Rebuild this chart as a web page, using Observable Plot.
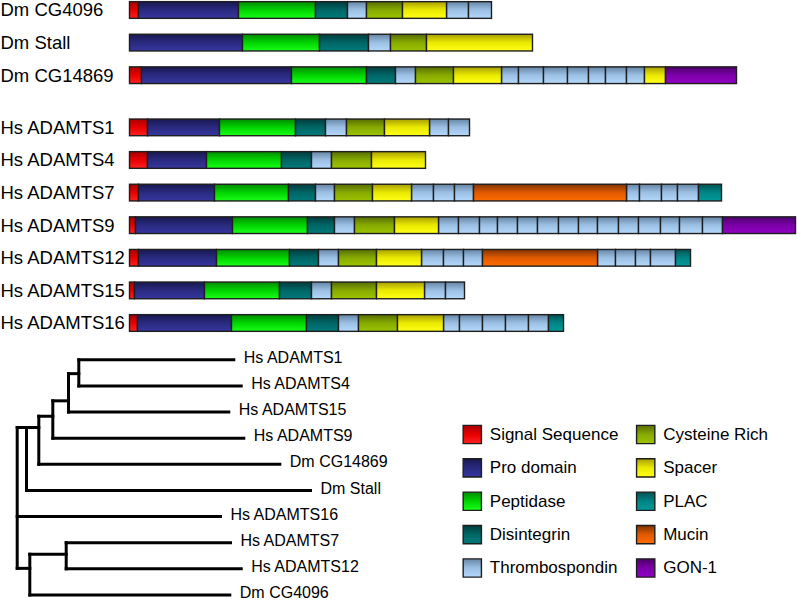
<!DOCTYPE html>
<html><head><meta charset="utf-8">
<script src="https://cdn.jsdelivr.net/npm/d3@7"></script>
<script src="https://cdn.jsdelivr.net/npm/@observablehq/plot@0.6"></script>
<style>
body{margin:0;background:#fff;}
#chart{position:relative;width:797px;height:600px;overflow:hidden;background:#fff;}
#chart svg{position:absolute;}
</style></head><body><div id="chart"></div>
<script>
// ---------- DATA ----------
const proteins = ["Dm CG4096","Dm Stall","Dm CG14869","Hs ADAMTS1","Hs ADAMTS4","Hs ADAMTS7","Hs ADAMTS9","Hs ADAMTS12","Hs ADAMTS15","Hs ADAMTS16"];

const domainsCG4096   = ["sig","pro","pep","dis","tsp","cys","spa","tsp","tsp"];
const lengthsCG4096   = [9,100,77,32,19,36,44,22,23];
const domainsStall    = ["pro","pep","dis","tsp","cys","spa"];
const lengthsStall    = [113,77,49,22,36,106];
const domainsCG14869  = ["sig","pro","pep","dis","tsp","cys","spa","tsp","tsp","tsp","tsp","tsp","tsp","tsp","spa","gon"];
const lengthsCG14869  = [12,150,75,29,20,38,48,17,25,24,21,17,21,18,21,71];
const domainsADAMTS1  = ["sig","pro","pep","dis","tsp","cys","spa","tsp","tsp"];
const lengthsADAMTS1  = [18,72,76,30,21,38,45,19,21];
const domainsADAMTS4  = ["sig","pro","pep","dis","tsp","cys","spa"];
const lengthsADAMTS4  = [18,59,75,30,20,40,54];
const domainsADAMTS7  = ["sig","pro","pep","dis","tsp","cys","spa","tsp","tsp","tsp","muc","tsp","tsp","tsp","tsp","plac"];
const lengthsADAMTS7  = [9,76,74,27,19,38,39,22,21,19,153,13,22,16,21,23];
const domainsADAMTS9  = ["sig","pro","pep","dis","tsp","cys","spa","tsp","tsp","tsp","tsp","tsp","tsp","tsp","tsp","tsp","tsp","tsp","tsp","tsp","tsp","gon"];
const lengthsADAMTS9  = [6,97,75,27,20,40,44,20,21,18,20,20,21,20,19,21,20,22,19,23,20,73];
const domainsADAMTS12 = ["sig","pro","pep","dis","tsp","cys","spa","tsp","tsp","tsp","muc","tsp","tsp","tsp","tsp","plac"];
const lengthsADAMTS12 = [9,78,73,29,20,38,45,22,20,19,115,18,20,15,25,15];
const domainsADAMTS15 = ["sig","pro","pep","dis","tsp","cys","spa","tsp","tsp"];
const lengthsADAMTS15 = [5,70,75,32,20,45,48,21,19];
const domainsADAMTS16 = ["sig","pro","pep","dis","tsp","cys","spa","tsp","tsp","tsp","tsp","tsp","plac"];
const lengthsADAMTS16 = [8,94,75,32,20,39,46,16,23,23,23,20,15];

const domainTypes = ["sig","pro","pep","dis","tsp","cys","spa","plac","muc","gon"];
const legendCol1 = ["Signal Sequence","Pro domain","Peptidase","Disintegrin","Thrombospondin"];
const legendCol1Types = ["sig","pro","pep","dis","tsp"];
const legendCol2 = ["Cysteine Rich","Spacer","PLAC","Mucin","GON-1"];
const legendCol2Types = ["cys","spa","plac","muc","gon"];

// tree: node, parent, branch length
const treeNodes   = ["root","nE","nD","nC","nB","nA","Hs ADAMTS1","Hs ADAMTS4","Hs ADAMTS15","Hs ADAMTS9","Dm CG14869","Dm Stall","Hs ADAMTS16","nF","nG","Hs ADAMTS7","Hs ADAMTS12","Dm CG4096"];
const treeParents = [null,"root","nE","nD","nC","nB","nA","nA","nB","nC","nD","nE","root","root","nF","nG","nG","nF"];
const branchLengths = [0,9.3,12.3,14,15.7,10.3,155,162.4,160.3,191,241,284,203.3,12.6,36.4,164.3,175,200];
const leafOrder = ["Hs ADAMTS1","Hs ADAMTS4","Hs ADAMTS15","Hs ADAMTS9","Dm CG14869","Dm Stall","Hs ADAMTS16","Hs ADAMTS7","Hs ADAMTS12","Dm CG4096"];
const innerNodeNames = ["nA","nB","nC","nD","nE","nG","nF"];
const innerNodeRows  = [0.53,1.57,2.16,2.59,2.59,7.44,7.98];

// ---------- STYLE ----------
const gradTop = {sig:"#a80000",pro:"#181850",pep:"#008a00",dis:"#003c3c",tsp:"#6585a5",cys:"#566e00",spa:"#a89f00",plac:"#005252",muc:"#803400",gon:"#4c006c"};
const gradMid = {sig:"#e80000",pro:"#2a2a80",pep:"#00d400",dis:"#006666",tsp:"#9cc0e4",cys:"#87aa00",spa:"#eaea00",plac:"#008585",muc:"#e05a00",gon:"#7c00a8"};
const gradBot = {sig:"#ff2020",pro:"#3636a0",pep:"#18ff18",dis:"#007a7a",tsp:"#b4d8fa",cys:"#9cc400",spa:"#ffff18",plac:"#009a9a",muc:"#ff6c00",gon:"#9000c4"};
const FONT = "'Liberation Sans', Arial, Helvetica, sans-serif";
const STROKE = "#1e1e1e";

const chart = document.getElementById("chart");
chart.insertAdjacentHTML("beforeend",
  `<svg width="0" height="0" style="position:absolute"><defs>${domainTypes.map(t =>
    `<linearGradient id="g-${t}" x1="0" y1="0" x2="0" y2="1">
      <stop offset="0" stop-color="${gradTop[t]}"/><stop offset="0.5" stop-color="${gradMid[t]}"/><stop offset="1" stop-color="${gradBot[t]}"/>
    </linearGradient>`).join("")}</defs></svg>`);

// ---------- DOMAIN BARS ----------
const archs = {
  "Dm CG4096":[domainsCG4096,lengthsCG4096], "Dm Stall":[domainsStall,lengthsStall], "Dm CG14869":[domainsCG14869,lengthsCG14869],
  "Hs ADAMTS1":[domainsADAMTS1,lengthsADAMTS1], "Hs ADAMTS4":[domainsADAMTS4,lengthsADAMTS4], "Hs ADAMTS7":[domainsADAMTS7,lengthsADAMTS7],
  "Hs ADAMTS9":[domainsADAMTS9,lengthsADAMTS9], "Hs ADAMTS12":[domainsADAMTS12,lengthsADAMTS12], "Hs ADAMTS15":[domainsADAMTS15,lengthsADAMTS15],
  "Hs ADAMTS16":[domainsADAMTS16,lengthsADAMTS16]
};
const rowOf = (i) => i + (i >= 3 ? 0.6 : 0);
const segs = [];
proteins.forEach((p, i) => {
  const [ds, ls] = archs[p];
  let s = 0;
  ds.forEach((d, k) => { segs.push({protein:p, row:rowOf(i), type:d, x1:s, x2:s + ls[k]}); s += ls[k]; });
});
const half = 0.256;
const barPlot = Plot.plot({
  width: 797, height: 340, margin: 0,
  x: {domain:[0,667.5], range:[129.5,797], axis:null},
  y: {domain:[0,9.6], range:[10,323], axis:null},
  style: {fontFamily: FONT, background:"transparent", overflow:"visible"},
  marks: [
    ...domainTypes.map(t => Plot.rect(segs.filter(d => d.type === t), {
      x1:"x1", x2:"x2", y1: d => d.row - half, y2: d => d.row + half,
      fill:`url(#g-${t})`, stroke:STROKE, strokeWidth:1.4})),
    Plot.text(proteins, {frameAnchor:"left", y:(d,i) => rowOf(i), text:d => d, textAnchor:"start", fontSize:18.5, fill:"#000"})
  ]
});
barPlot.style.left = "0px"; barPlot.style.top = "0px";
chart.appendChild(barPlot);

// ---------- TREE ----------
const parentOf = new Map(treeNodes.map((n,i) => [n, treeParents[i]]));
const lenOf = new Map(treeNodes.map((n,i) => [n, branchLengths[i]]));
const depth = (n) => n === "root" ? 0 : depth(parentOf.get(n)) + lenOf.get(n);
const rowMap = new Map();
leafOrder.forEach((n,i) => rowMap.set(n, i));
innerNodeNames.forEach((n,i) => rowMap.set(n, innerNodeRows[i]));
const horiz = treeNodes.filter(n => n !== "root").map(n => ({x1:depth(parentOf.get(n)), x2:depth(n), y1:rowMap.get(n), y2:rowMap.get(n)}));
const vert = ["root", ...innerNodeNames].map(n => {
  const kids = treeNodes.filter(c => parentOf.get(c) === n).map(c => rowMap.get(c));
  return {x1:depth(n), x2:depth(n), y1:d3.min(kids), y2:d3.max(kids)};
});
const leaves = leafOrder.map(n => ({name:n, x:depth(n), y:rowMap.get(n)}));
const treePlot = Plot.plot({
  width: 420, height: 260, margin: 0,
  x: {domain:[0,293.3], range:[16.7,310], axis:null},
  y: {domain:[0,9], range:[19.3,254.5], axis:null},
  style: {fontFamily: FONT, background:"transparent", overflow:"visible"},
  marks: [
    Plot.link([...horiz, ...vert], {x1:"x1", x2:"x2", y1:"y1", y2:"y2", stroke:"#000", strokeWidth:3, strokeLinecap:"square"}),
    Plot.text(leaves, {x:"x", y:"y", text:"name", textAnchor:"start", dx:10, dy:-2, fontSize:16, fill:"#000"})
  ]
});
treePlot.style.left = "0px"; treePlot.style.top = "340px";
chart.appendChild(treePlot);

// ---------- LEGEND ----------
const legendItems = [
  ...legendCol1.map((name,i) => ({name, type:legendCol1Types[i], col:0, row:i})),
  ...legendCol2.map((name,i) => ({name, type:legendCol2Types[i], col:1, row:i}))
];
const legendPlot = Plot.plot({
  width: 377, height: 185, margin: 0,
  x: {domain:[0,1], range:[51.8,225.2], axis:null},
  y: {domain:[0,4], range:[19,152.5], axis:null},
  style: {fontFamily: FONT, background:"transparent", overflow:"visible"},
  marks: [
    ...domainTypes.map(t => Plot.dot(legendItems.filter(d => d.type === t), {
      x:"col", y:"row", symbol:"square", r:10.3, fill:`url(#g-${t})`, stroke:STROKE, strokeWidth:1.4})),
    Plot.text(legendItems, {x:"col", y:"row", text:"name", textAnchor:"start", dx:17.5, fontSize:17, fill:"#000"})
  ]
});
legendPlot.style.left = "420px"; legendPlot.style.top = "415px";
chart.appendChild(legendPlot);
</script></body></html>
